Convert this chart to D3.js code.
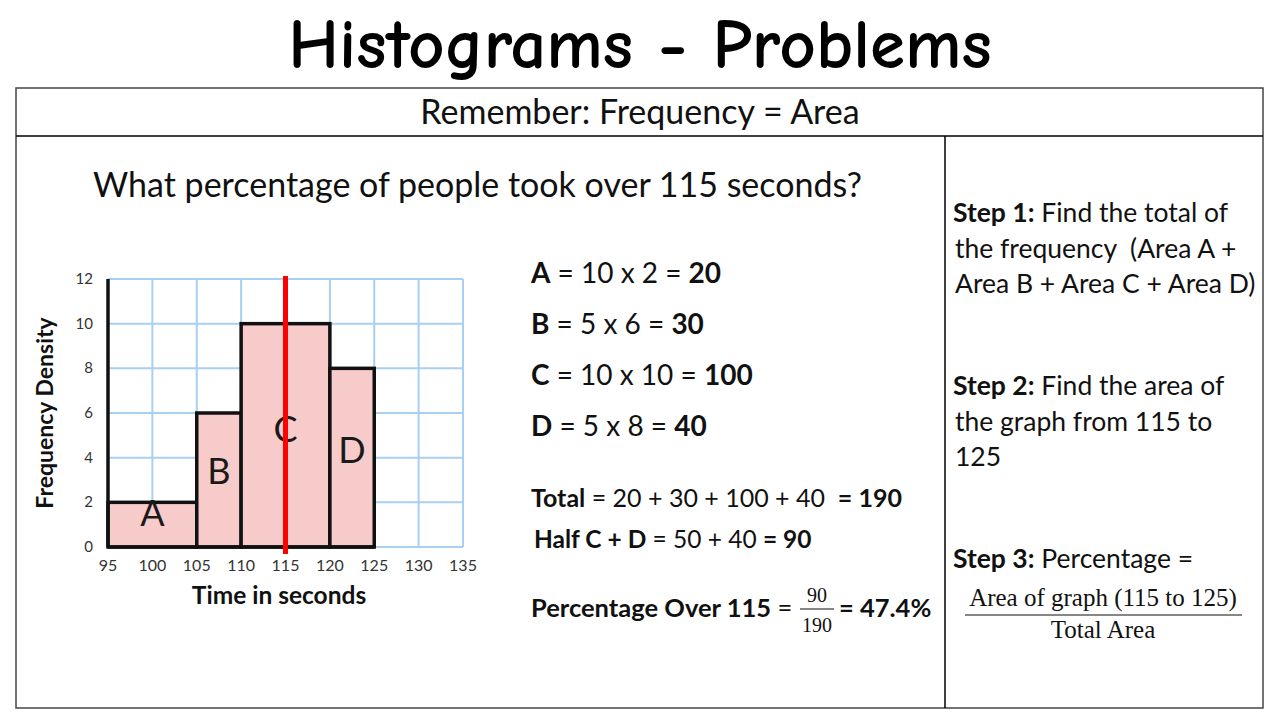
<!DOCTYPE html>
<html><head><meta charset="UTF-8">
<script src="https://d3js.org/d3.v7.min.js"></script>
<style>
  body { margin: 0; background: #fff; }
  text { font-family: Lato, "Open Sans", sans-serif; fill: #111; white-space: pre; }
  .serif { font-family: "Liberation Serif", "DejaVu Serif", serif; }
</style>
</head>
<body>
<script>
"use strict";
// Histogram data
const binStarts = [95, 105, 110, 120];
const binEnds = [105, 110, 120, 125];
const densities = [2, 6, 10, 8];
const barLabels = ["A", "B", "C", "D"];
const xTicks = [95, 100, 105, 110, 115, 120, 125, 130, 135];
const yTicks = [0, 2, 4, 6, 8, 10, 12];
const cutoff = 115;

// Worked answer lines
const workLines = [
  ["A", " = 10 x 2 = ", "20"],
  ["B", " = 5 x 6 = ", "30"],
  ["C", " = 10 x 10 = ", "100"],
  ["D", " = 5 x 8 = ", "40"]
];

let W = 1280, H = 720;
let svg = d3.select("body").append("svg")
    .attr("width", W).attr("height", H);

// Title
svg.append("text")
    .attr("x", 640).attr("y", 68)
    .attr("text-anchor", "middle")
    .style("font-family", "'Comic Sans MS', 'Comic Neue', Lato, sans-serif")
    .style("font-weight", "900")
    .style("font-size", "71px")
    .style("fill", "#000")
    .text("Histograms - Problems");

// Frame
let frame = svg.append("g").attr("fill", "none").attr("stroke", "#444").attr("stroke-width", 1.5);
frame.append("rect").attr("x", 16).attr("y", 88).attr("width", 1247).attr("height", 620);
frame.append("line").attr("x1", 16).attr("x2", 1263).attr("y1", 136).attr("y2", 136).attr("stroke", "#000");
frame.append("line").attr("x1", 945).attr("x2", 945).attr("y1", 136).attr("y2", 708).attr("stroke", "#000");

svg.append("text")
    .attr("x", 640).attr("y", 124)
    .attr("text-anchor", "middle")
    .style("font-size", "34px")
    .text("Remember: Frequency = Area");

svg.append("text")
    .attr("x", 93).attr("y", 197)
    .style("font-size", "34px")
    .text("What percentage of people took over 115 seconds?");

// Chart
let x = d3.scaleLinear().domain([95, 135]).range([108, 463]);
let y = d3.scaleLinear().domain([0, 12]).range([547, 279]);
let chart = svg.append("g");

// grid
chart.append("g").selectAll("line").data(xTicks).join("line")
    .attr("x1", d => x(d)).attr("x2", d => x(d))
    .attr("y1", y(0)).attr("y2", y(12))
    .attr("stroke", "#a9cff2").attr("stroke-width", 2);
chart.append("g").selectAll("line").data(yTicks).join("line")
    .attr("x1", x(95)).attr("x2", x(135))
    .attr("y1", d => y(d)).attr("y2", d => y(d))
    .attr("stroke", "#a9cff2").attr("stroke-width", 2);

// bars
let bars = densities.map((d, i) => ({x0: binStarts[i], x1: binEnds[i], d: d, label: barLabels[i]}));
chart.append("g").selectAll("rect").data(bars).join("rect")
    .attr("x", d => x(d.x0)).attr("y", d => y(d.d))
    .attr("width", d => x(d.x1) - x(d.x0))
    .attr("height", d => y(0) - y(d.d))
    .attr("fill", "#f8cbcb").attr("stroke", "#111").attr("stroke-width", 3.5);

// axes lines
chart.append("line").attr("x1", x(95)).attr("x2", x(95)).attr("y1", y(12)).attr("y2", y(0))
    .attr("stroke", "#111").attr("stroke-width", 3.5);
chart.append("line").attr("x1", x(95)).attr("x2", x(125)).attr("y1", y(0)).attr("y2", y(0))
    .attr("stroke", "#111").attr("stroke-width", 3.5);

// bar letters
chart.append("g").selectAll("text").data(bars).join("text")
    .attr("x", d => x((d.x0 + d.x1) / 2))
    .attr("y", d => y(d.d * 0.47))
    .attr("text-anchor", "middle")
    .style("font-size", "36px")
    .style("fill", "#1a1a1a")
    .text(d => d.label);

// cutoff line
chart.append("line")
    .attr("x1", x(cutoff)).attr("x2", x(cutoff))
    .attr("y1", y(12) - 3).attr("y2", y(0) + 7)
    .attr("stroke", "#ff0000").attr("stroke-width", 5);

// tick labels
chart.append("g").selectAll("text").data(yTicks).join("text")
    .attr("x", 93).attr("y", d => y(d) + 5)
    .attr("text-anchor", "end")
    .style("font-size", "15px").style("fill", "#333")
    .text(d => d);
chart.append("g").selectAll("text").data(xTicks).join("text")
    .attr("x", d => x(d)).attr("y", 571)
    .attr("text-anchor", "middle")
    .style("font-size", "16px").style("fill", "#333")
    .text(d => d);

chart.append("text")
    .attr("transform", "translate(53," + y(6) + ") rotate(-90)")
    .attr("text-anchor", "middle")
    .style("font-size", "23px").style("font-weight", "bold")
    .text("Frequency Density");
chart.append("text")
    .attr("x", 279).attr("y", 604)
    .attr("text-anchor", "middle")
    .style("font-size", "24.5px").style("font-weight", "bold")
    .text("Time in seconds");

// Working
let work = svg.append("g").style("font-size", "28px");
workLines.forEach((ln, i) => {
  let t = work.append("text").attr("x", 531).attr("y", 283 + i * 51);
  t.append("tspan").style("font-weight", "bold").text(ln[0]);
  t.append("tspan").text(ln[1]);
  t.append("tspan").style("font-weight", "bold").text(ln[2]);
});

let tot = svg.append("text").attr("x", 531).attr("y", 507).style("font-size", "25px");
tot.append("tspan").style("font-weight", "bold").text("Total");
tot.append("tspan").text(" = 20 + 30 + 100 + 40  ");
tot.append("tspan").style("font-weight", "bold").text("= 190");

let half = svg.append("text").attr("x", 534).attr("y", 548).style("font-size", "24.5px");
half.append("tspan").style("font-weight", "bold").text("Half C + D");
half.append("tspan").text(" = 50 + 40 ");
half.append("tspan").style("font-weight", "bold").text("= 90");

let pct = svg.append("text").attr("x", 531).attr("y", 617).style("font-size", "25.5px");
pct.append("tspan").style("font-weight", "bold").text("Percentage Over 115");
pct.append("tspan").text(" =");
svg.append("text").attr("class", "serif").attr("x", 817).attr("y", 602)
    .attr("text-anchor", "middle").style("font-size", "20px").text("90");
svg.append("line").attr("x1", 800).attr("x2", 834).attr("y1", 609).attr("y2", 609)
    .attr("stroke", "#111").attr("stroke-width", 1.2);
svg.append("text").attr("class", "serif").attr("x", 817).attr("y", 632)
    .attr("text-anchor", "middle").style("font-size", "20px").text("190");
svg.append("text").attr("x", 839).attr("y", 617).style("font-size", "25.5px")
    .style("font-weight", "bold").text("= 47.4%");

// Steps
let steps = svg.append("g").style("font-size", "26.5px");
function stepBlock(y0, head, lines) {
  lines.forEach((s, i) => {
    let t = steps.append("text").attr("x", i === 0 ? 953 : 955).attr("y", y0 + i * 35.5);
    if (i === 0) t.append("tspan").style("font-weight", "bold").text(head);
    t.append("tspan").text(s);
  });
}
stepBlock(222, "Step 1:", [" Find the total of", "the frequency  (Area A +", "Area B + Area C + Area D)"]);
stepBlock(395, "Step 2:", [" Find the area of", "the graph from 115 to", "125"]);
stepBlock(568, "Step 3:", [" Percentage ="]);

svg.append("text").attr("class", "serif").attr("x", 1103).attr("y", 606)
    .attr("text-anchor", "middle").style("font-size", "25px").text("Area of graph (115 to 125)");
svg.append("line").attr("x1", 965).attr("x2", 1242).attr("y1", 615).attr("y2", 615)
    .attr("stroke", "#111").attr("stroke-width", 1.2);
svg.append("text").attr("class", "serif").attr("x", 1103).attr("y", 638)
    .attr("text-anchor", "middle").style("font-size", "25px").text("Total Area");
</script>
</body>
</html>
